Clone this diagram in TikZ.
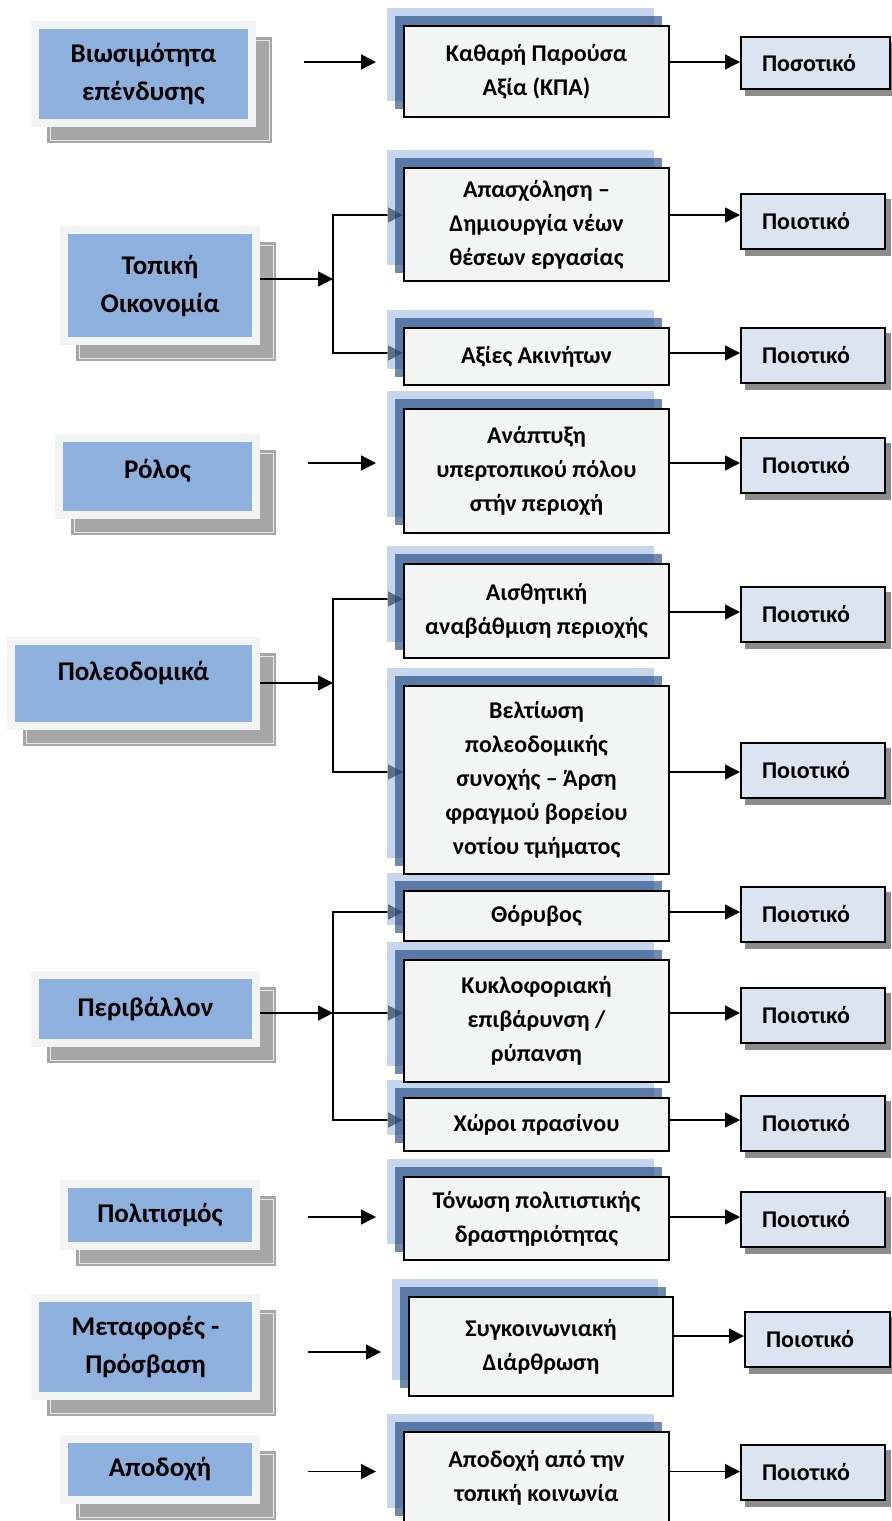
\documentclass[tikz,border=0pt]{standalone}
\usepackage{fontspec}
\setmainfont{Carlito}
\usetikzlibrary{arrows.meta}

\definecolor{goalblue}{HTML}{8DB0DC}
\definecolor{goalframe}{HTML}{F2F4F4}
\definecolor{goalshade}{HTML}{A6A6A6}
\definecolor{critfill}{HTML}{F3F4F4}
\definecolor{layerlight}{HTML}{9EBBE3}
\definecolor{layerdark}{HTML}{123E76}
\definecolor{kindfill}{HTML}{DBE5F1}
\definecolor{kindshade}{HTML}{8C8C8C}

\pgfdeclarelayer{back}
\pgfdeclarelayer{wires}
\pgfdeclarelayer{shade}
\pgfsetlayers{back,wires,shade,main}

\begin{document}
\begin{tikzpicture}[x=0.5pt, y=-0.5pt,
    goal/.style={draw=goalframe, line width=4pt, fill=goalblue, inner sep=0pt,
      align=center, font=\fontsize{13.5}{19}\selectfont\bfseries},
    crit/.style={draw=black, line width=1pt, fill=critfill, minimum width=132.5pt,
      align=center, font=\fontsize{12}{17}\selectfont\bfseries},
    kind/.style={draw=black, line width=1pt, fill=kindfill, minimum height=27.5pt,
      text width=51pt, inner xsep=10.5pt, align=left,
      font=\fontsize{12}{17}\selectfont\bfseries},
    link/.style={line width=0.75pt, -{Triangle[length=7.5pt,width=7.5pt]}},
    floating/.style={shorten <=24pt, shorten >=13.5pt}]
    \useasboundingbox (0,0) rectangle (892,1521);

    % left column
    \node[goal, minimum width=108.5pt, minimum height=49pt] (L1) at (143.5,74) {Βιωσιμότητα\\επένδυσης};
    \node[goal, minimum width=96pt, minimum height=55.5pt] (L2) at (160,285.5) {Τοπική\\Οικονομία};
    \node[goal, minimum width=98.5pt, minimum height=38.5pt, text depth=8pt] (L3) at (157.5,476.5) {Ρόλος};
    \node[goal, minimum width=122.5pt, minimum height=42.5pt, text depth=13pt] (L4) at (133.5,683.5) {Πολεοδομικά};
    \node[goal, minimum width=110.5pt, minimum height=34pt] (L5) at (145.5,1009) {Περιβάλλον};
    \node[goal, minimum width=96pt, minimum height=31pt] (L6) at (160,1215) {Πολιτισμός};
    \node[goal, minimum width=110.5pt, minimum height=49pt] (L7) at (145.5,1347) {Μεταφορές -\\Πρόσβαση};
    \node[goal, minimum width=96pt, minimum height=30.5pt] (L8) at (160,1469.5) {Αποδοχή};

    % middle column
    \node[crit, minimum height=45.5pt] (M1) at (536.5,71.5) {Καθαρή Παρούσα\\Αξία (ΚΠΑ)};
    \node[crit, minimum height=56.5pt] (M2) at (536.5,224.5) {Απασχόληση –\\Δημιουργία νέων\\θέσεων εργασίας};
    \node[crit, minimum height=28.5pt] (M3) at (536.5,356.5) {Αξίες Ακινήτων};
    \node[crit, minimum height=62pt] (M4) at (536.5,471) {Ανάπτυξη\\υπερτοπικού πόλου\\στήν περιοχή};
    \node[crit, minimum height=47pt] (M5) at (536.5,611) {Αισθητική\\αναβάθμιση περιοχής};
    \node[crit, minimum height=94pt] (M6) at (536.5,780) {Βελτίωση\\πολεοδομικής\\συνοχής – Άρση\\φραγμού βορείου\\νοτίου τμήματος};
    \node[crit, minimum height=25pt] (M7) at (536.5,916) {Θόρυβος};
    \node[crit, minimum height=61pt] (M8) at (536.5,1021) {Κυκλοφοριακή\\επιβάρυνση /\\ρύπανση};
    \node[crit, minimum height=26.5pt] (M9) at (536.5,1124.5) {Χώροι πρασίνου};
    \node[crit, minimum height=41.5pt] (M10) at (536.5,1218.5) {Τόνωση πολιτιστικής\\δραστηριότητας};
    \node[crit, minimum width=132pt, minimum height=49.5pt] (M11) at (541,1346.5) {Συγκοινωνιακή\\Διάρθρωση};
    \node[crit, minimum height=46pt] (M12) at (536.5,1478) {Αποδοχή από την\\τοπική κοινωνία};

    % right column
    \node[kind, text width=53.5pt, minimum height=26pt] (R1) at (815.5,63) {Ποσοτικό};
    \node[kind] (R2) at (813,221.5) {Ποιοτικό};
    \node[kind] (R3) at (813,355.5) {Ποιοτικό};
    \node[kind] (R4) at (813,465.5) {Ποιοτικό};
    \node[kind] (R5) at (813,614) {Ποιοτικό};
    \node[kind] (R6) at (813,770.5) {Ποιοτικό};
    \node[kind] (R7) at (813,914.5) {Ποιοτικό};
    \node[kind] (R8) at (813,1015.5) {Ποιοτικό};
    \node[kind] (R9) at (813,1123.5) {Ποιοτικό};
    \node[kind] (R10) at (813,1219) {Ποιοτικό};
    \node[kind, text width=51.5pt] (R11) at (817.5,1339.5) {Ποιοτικό};
    \node[kind] (R12) at (813,1472.5) {Ποιοτικό};

    % levels of the connectors
    \coordinate (y1) at (0,62);
    \coordinate (b2) at (333,279);
    \coordinate (y2a) at (0,215);
    \coordinate (y2b) at (0,353);
    \coordinate (y3) at (0,463);
    \coordinate (b4) at (333,683);
    \coordinate (y4a) at (0,599);
    \coordinate (y4r) at (0,612);
    \coordinate (y4b) at (0,772);
    \coordinate (b5) at (333,1013);
    \coordinate (y5a) at (0,912);
    \coordinate (y5c) at (0,1120);
    \coordinate (y6) at (0,1217);
    \coordinate (y7l) at (0,1352);
    \coordinate (y7r) at (0,1336);
    \coordinate (y8) at (0,1471.5);

    \begin{pgfonlayer}{back}
        \foreach \i in {1,...,8}{
            \fill[goalshade] ([shift={(16,16)}]L\i.south west) rectangle ([shift={(16,16)}]L\i.north east);
            \draw[white!75!goalshade, line width=0.5pt] ([shift={(19,13)}]L\i.south west) rectangle ([shift={(13,19)}]L\i.north east);
        }
        \foreach \i in {1,...,12}
            \fill[kindshade] ([shift={(5,6)}]R\i.south west) rectangle ([shift={(5,6)}]R\i.north east);
    \end{pgfonlayer}

    \begin{pgfonlayer}{shade}
        \foreach \i in {1,...,12}{
            \fill[layerlight, opacity=0.6] ([shift={(-16,-17)}]M\i.south west) rectangle ([shift={(-16,-17)}]M\i.north east);
            \fill[layerdark, opacity=0.6] ([shift={(-8,-9)}]M\i.south west) rectangle ([shift={(-8,-9)}]M\i.north east);
        }
    \end{pgfonlayer}

    \begin{pgfonlayer}{wires}
        % left to middle
        \draw[link, floating] (L1.east |- y1) -- (M1.west |- y1);
        \draw[link] (L2.east |- b2) -- (b2);
        \draw[link] (b2) |- (M2.west |- y2a);
        \draw[link] (b2) |- (M3.west |- y2b);
        \draw[link, floating] (L3.east |- y3) -- (M4.west |- y3);
        \draw[link] (L4.east |- b4) -- (b4);
        \draw[link] (b4) |- (M5.west |- y4a);
        \draw[link] (b4) |- (M6.west |- y4b);
        \draw[link] (L5.east |- b5) -- (b5);
        \draw[link] (b5) |- (M7.west |- y5a);
        \draw[link] (b5) -- (M8.west |- b5);
        \draw[link] (b5) |- (M9.west |- y5c);
        \draw[link, floating] (L6.east |- y6) -- (M10.west |- y6);
        \draw[link, floating] (L7.east |- y7l) -- (M11.west |- y7l);
        \draw[link, floating] (L8.east |- y8) -- (M12.west |- y8);
        % middle to right
        \draw[link] (M1.east |- y1) -- (R1.west |- y1);
        \draw[link] (M2.east |- y2a) -- (R2.west |- y2a);
        \draw[link] (M3.east |- y2b) -- (R3.west |- y2b);
        \draw[link] (M4.east |- y3) -- (R4.west |- y3);
        \draw[link] (M5.east |- y4r) -- (R5.west |- y4r);
        \draw[link] (M6.east |- y4b) -- (R6.west |- y4b);
        \draw[link] (M7.east |- y5a) -- (R7.west |- y5a);
        \draw[link] (M8.east |- b5) -- (R8.west |- b5);
        \draw[link] (M9.east |- y5c) -- (R9.west |- y5c);
        \draw[link] (M10.east |- y6) -- (R10.west |- y6);
        \draw[link] (M11.east |- y7r) -- (R11.west |- y7r);
        \draw[link] (M12.east |- y8) -- (R12.west |- y8);
    \end{pgfonlayer}
\end{tikzpicture}
\end{document}
